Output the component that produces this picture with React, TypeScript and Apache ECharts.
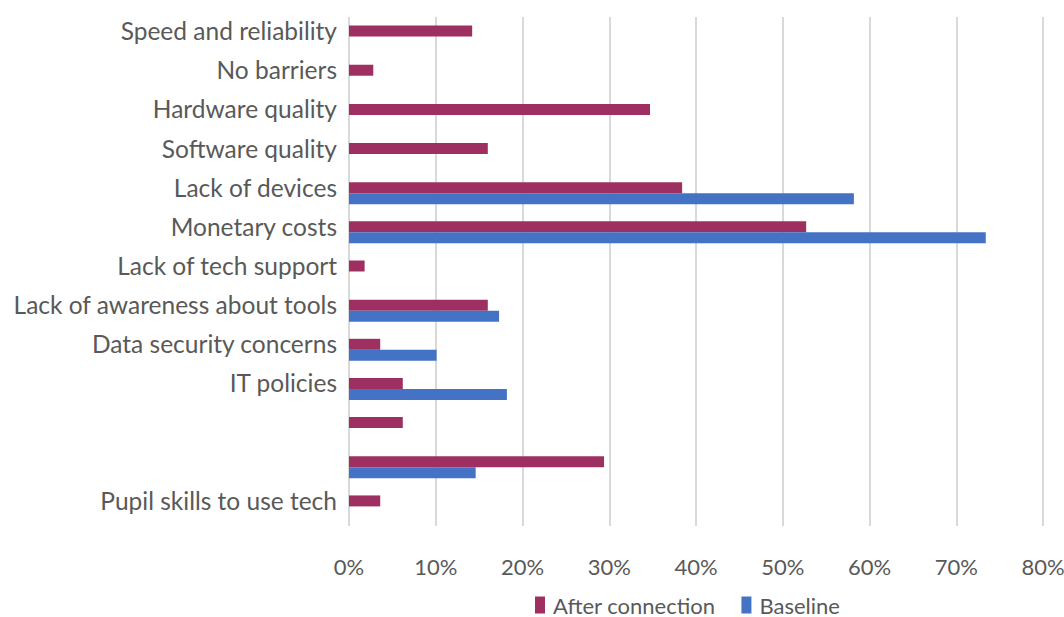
import React, { useEffect, useRef } from "react";
import * as echarts from "echarts";

const categories = [
  "Speed and reliability",
  "No barriers",
  "Hardware quality",
  "Software quality",
  "Lack of devices",
  "Monetary costs",
  "Lack of tech support",
  "Lack of awareness about tools",
  "Data security concerns",
  "IT policies",
  "",
  " ",
  "Pupil skills to use tech",
];

const afterConnection = [14.2, 2.8, 34.7, 16.0, 38.4, 52.7, 1.8, 16.0, 3.6, 6.2, 6.2, 29.4, 3.6];
const baseline: (number | null)[] = [null, null, null, null, 58.2, 73.4, null, 17.3, 10.1, 18.2, null, 14.6, null];

const xTicks = { min: 0, max: 80, interval: 10 };

export default function App() {
  const ref = useRef<HTMLDivElement>(null);
  useEffect(() => {
    if (!ref.current) return;
    const chart = echarts.init(ref.current, undefined, { renderer: "svg" });
    chart.setOption({
      animation: false,
      backgroundColor: "#ffffff",
      grid: { left: 349, right: 21, top: 17, bottom: 91, containLabel: false, outerBoundsMode: "none" },
      legend: {
        left: 535,
        top: 594,
        padding: 0,
        itemWidth: 10,
        itemHeight: 17,
        itemGap: 26,
        icon: "rect",
        textStyle: {
          fontFamily: "Lato, sans-serif",
          fontSize: 22,
          color: "#595959",
          padding: [0, 0, 0, 3],
        },
        data: ["After connection", "Baseline"],
      },
      xAxis: {
        type: "value",
        min: xTicks.min,
        max: xTicks.max,
        interval: xTicks.interval,
        axisLine: { show: false },
        axisTick: { show: false },
        splitLine: { show: true, lineStyle: { color: "#d9d9d9", width: 2 } },
        axisLabel: {
          formatter: "{value}%",
          margin: 29,
          fontFamily: "Lato, sans-serif",
          fontSize: 22,
          color: "#595959",
        },
      },
      yAxis: {
        type: "category",
        data: categories,
        inverse: true,
        axisLine: { show: false },
        axisTick: { show: false },
        axisLabel: {
          margin: 12,
          fontFamily: "Lato, 'Open Sans', sans-serif",
          fontSize: 24.5,
          color: "#595959",
          verticalAlign: "bottom",
          lineHeight: 12,
        },
      },
      series: [
        {
          name: "After connection",
          type: "bar",
          data: afterConnection,
          barWidth: 11,
          barGap: "0%",
          itemStyle: { color: "#9E3061" },
        },
        {
          name: "Baseline",
          type: "bar",
          data: baseline,
          barWidth: 11,
          barGap: "0%",
          itemStyle: { color: "#4472C4" },
        },
      ],
    });
    return () => chart.dispose();
  }, []);
  return (
    <div
      ref={ref}
      style={{ position: "fixed", left: 0, top: 0, width: 1064, height: 617, background: "#fff" }}
    />
  );
}
